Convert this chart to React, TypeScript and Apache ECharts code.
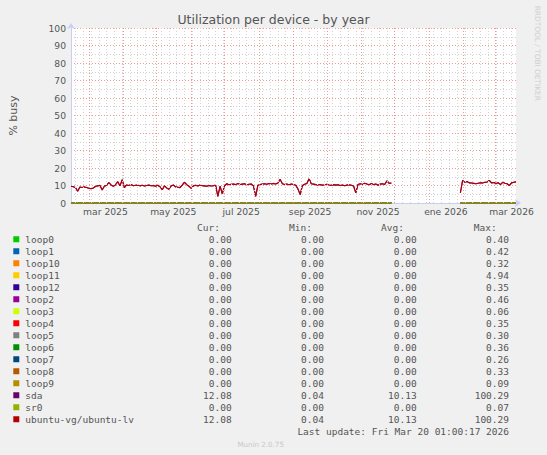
import React, { useEffect, useRef } from "react";
import * as echarts from "echarts";

const DAY = 86400000;
const START = Date.UTC(2025, 1, 13, 1, 0, 0);
const END = Date.UTC(2026, 2, 20, 1, 0, 0);
const STEP_DAYS = 2;

// ubuntu-vg/ubuntu-lv (and sda) % busy, one value every 2 days
const SEG1_START_DAY = 0;
const SEG1_VALUES = [
  9.6, 9.3, 8.9, 6.7, 9.1, 8.9, 9.2, 8.8, 8.4, 8.1,
  8.6, 9.4, 9.8, 10.1, 7.4, 9.6, 10.2, 11.6, 10.3, 9.5,
  10.4, 12.2, 9.8, 13.3, 8.8, 10.3, 10.0, 10.6, 9.9, 10.1,
  10.2, 9.8, 10.1, 9.7, 10.0, 10.2, 9.9, 10.0, 9.6, 10.1,
  9.3, 7.6, 9.8, 8.6, 7.9, 9.7, 10.3, 9.2, 9.0, 8.8,
  10.2, 11.9, 10.5, 9.6, 8.4, 9.8, 10.1, 9.7, 10.3, 9.9,
  9.8, 9.6, 10.0, 9.7, 9.9, 10.2, 3.8, 9.6, 5.2, 9.8,
  11.0, 10.4, 10.7, 10.9, 10.5, 11.2, 10.6, 10.8, 11.0, 10.4,
  10.7, 10.9, 9.8, 3.8, 10.2, 10.6, 10.8, 11.0, 10.7, 11.1,
  10.9, 11.2, 10.8, 11.4, 13.5, 11.0, 10.6, 10.8, 10.4, 10.9,
  10.6, 10.2, 8.0, 4.8, 10.0, 10.7, 11.2, 13.8, 11.0, 10.8,
  10.5, 10.3, 10.6, 10.2, 10.4, 10.7, 10.3, 10.1, 10.5, 10.2,
  10.4, 10.0, 10.3, 9.9, 10.2, 10.4, 10.1, 9.7, 5.8, 10.6,
  11.0, 10.6, 11.3, 10.8, 10.4, 11.1, 10.5, 10.9, 10.2, 10.8,
  11.0, 10.6, 12.7, 11.2, 11.4,
];
const GAP_DAY = 319;
const SEG2_START_DAY = 350;
const SEG2_VALUES = [
  5.7, 12.9, 11.8, 12.3, 11.5, 11.4, 11.2, 11.0, 11.3, 11.6,
  11.4, 11.8, 12.0, 12.9, 11.5, 11.7, 11.2, 11.6, 10.5, 11.8,
  11.3, 11.0, 9.9, 11.5, 11.9, 12.08,
];
// days where the idle devices report 0 (segment ends)
const ZERO_POINTS_DAYS = [0, 288, 350, 400];

const SERIES_NAMES = [
  "loop0", "loop1", "loop10", "loop11", "loop12", "loop2", "loop3", "loop4",
  "loop5", "loop6", "loop7", "loop8", "loop9", "sda", "sr0", "ubuntu-vg/ubuntu-lv",
];
const SERIES_COLORS = [
  "#00CC00", "#0066B3", "#FF8000", "#FFCC00", "#330099", "#990099", "#CCFF00", "#FF0000",
  "#808080", "#008F00", "#00487D", "#B35A00", "#B38F00", "#6B006B", "#8FB300", "#B30000",
];
const CUR = ["0.00","0.00","0.00","0.00","0.00","0.00","0.00","0.00","0.00","0.00","0.00","0.00","0.00","12.08","0.00","12.08"];
const MIN = ["0.00","0.00","0.00","0.00","0.00","0.00","0.00","0.00","0.00","0.00","0.00","0.00","0.00","0.04","0.00","0.04"];
const AVG = ["0.00","0.00","0.00","0.00","0.00","0.00","0.00","0.00","0.00","0.00","0.00","0.00","0.00","10.13","0.00","10.13"];
const MAX = ["0.40","0.42","0.32","4.94","0.35","0.46","0.06","0.35","0.30","0.36","0.26","0.33","0.09","100.29","0.07","100.29"];

const X_LABELS = ["mar 2025", "may 2025", "jul 2025", "sep 2025", "nov 2025", "ene 2026", "mar 2026"];
const X_LABEL_MONTHS = [[2025, 2], [2025, 4], [2025, 6], [2025, 8], [2025, 10], [2026, 0], [2026, 2]];
const Y_MAX = 100;
const Y_STEP = 10;

const TITLE = "Utilization per device - by year";
const Y_NAME = "% busy";
const LAST_UPDATE = "Last update: Fri Mar 20 01:00:17 2026";
const FOOTER = "Munin 2.0.75";
const WATERMARK = "RRDTOOL / TOBI OETIKER";

export default function App() {
  const ref = useRef<HTMLDivElement>(null);
  useEffect(() => {
    if (!ref.current) return;
    const chart = echarts.init(ref.current, undefined, { renderer: "svg" });

    const mainData: any[] = [];
    SEG1_VALUES.forEach((v, i) => mainData.push([START + (SEG1_START_DAY + i * STEP_DAYS) * DAY, v]));
    mainData.push([START + GAP_DAY * DAY, "-"]);
    SEG2_VALUES.forEach((v, i) => mainData.push([START + (SEG2_START_DAY + i * STEP_DAYS) * DAY, v]));

    const zeroData: any[] = [
      [START + ZERO_POINTS_DAYS[0] * DAY, 0],
      [START + ZERO_POINTS_DAYS[1] * DAY, 0],
      [START + GAP_DAY * DAY, "-"],
      [START + ZERO_POINTS_DAYS[2] * DAY, 0],
      [START + ZERO_POINTS_DAYS[3] * DAY, 0],
    ];

    // vertical grid: Mondays (minor, grey) and month starts (major, red)
    const monthStarts: number[] = [];
    for (let k = 0; k < 14; k++) {
      const t = Date.UTC(2025, 2 + k, 1);
      if (t <= END) monthStarts.push(t);
    }
    const mondays: number[] = [];
    for (let t = Date.UTC(2025, 1, 17); t <= END; t += 7 * DAY) mondays.push(t);
    const labelValues = X_LABEL_MONTHS.map(([y, m]) => Date.UTC(y, m, 16));

    const minorStyle = { color: "#D2D2D2", type: [1, 2], width: 1 };
    const majorStyle = { color: "rgba(235,120,120,0.75)", type: [1, 2], width: 1 };

    const gridMarkLine = {
      silent: true,
      symbol: ["none", "none"],
      label: { show: false },
      emphasis: { disabled: true },
      animation: false,
      data: [
        ...mondays.map((t) => ({ xAxis: t, lineStyle: minorStyle })),
        ...monthStarts.map((t) => ({ xAxis: t, lineStyle: majorStyle })),
      ],
    };

    const series: any[] = [
      {
        name: "__grid",
        type: "line",
        data: [],
        symbol: "none",
        z: 1,
        markLine: gridMarkLine,
      },
      ...SERIES_NAMES.map((name, i) => {
        const isMain = name === "sda" || name === "ubuntu-vg/ubuntu-lv";
        return {
          name,
          type: "line",
          data: isMain ? mainData : zeroData,
          showSymbol: false,
          symbol: "none",
          lineStyle: { color: SERIES_COLORS[i], width: isMain ? 1.1 : 1, opacity: isMain ? 1 : 0.75 },
          itemStyle: { color: SERIES_COLORS[i] },
          connectNulls: false,
          z: 3 + i * 0.01,
        };
      }),
    ];

    const mono = '"DejaVu Sans Mono", monospace';
    const sans = '"DejaVu Sans", sans-serif';
    const fs = 9.5;
    const rowY0 = 239.3;
    const rowH = 12;
    const cols = [231.7, 324, 416.7, 509];
    const headCols = [220, 312, 404, 496.7];
    const heads = ["Cur:", "Min:", "Avg:", "Max:"];
    const graphics: any[] = [];
    heads.forEach((h, j) =>
      graphics.push({
        type: "text", x: headCols[j], y: 227.3,
        style: { text: h, font: `${fs}px ${mono}`, fill: "#555", textAlign: "right", textVerticalAlign: "middle" },
      })
    );
    SERIES_NAMES.forEach((name, i) => {
      const y = rowY0 + i * rowH;
      graphics.push({ type: "rect", shape: { x: 13.3, y: y - 3, width: 6, height: 6 }, style: { fill: SERIES_COLORS[i] } });
      graphics.push({
        type: "text", x: 25.3, y,
        style: { text: name, font: `${fs}px ${mono}`, fill: "#555", textAlign: "left", textVerticalAlign: "middle" },
      });
      [CUR[i], MIN[i], AVG[i], MAX[i]].forEach((v, j) =>
        graphics.push({
          type: "text", x: cols[j], y,
          style: { text: v, font: `${fs}px ${mono}`, fill: "#555", textAlign: "right", textVerticalAlign: "middle" },
        })
      );
    });
    graphics.push({
      type: "text", x: 509, y: rowY0 + SERIES_NAMES.length * rowH,
      style: { text: LAST_UPDATE, font: `${fs}px ${mono}`, fill: "#555", textAlign: "right", textVerticalAlign: "middle" },
    });
    graphics.push({
      type: "text", x: 260.7, y: 444,
      style: { text: FOOTER, font: `7.1px ${sans}`, fill: "#C8C8C8", textAlign: "center", textVerticalAlign: "middle" },
    });
    graphics.push({
      type: "text", x: 537, y: 53.3, rotation: -Math.PI / 2,
      style: { text: WATERMARK, font: `7.4px ${sans}`, fill: "#CFCFCF", textAlign: "center", textVerticalAlign: "middle" },
    });

    const axisBlue = "#C9CEF5";
    chart.setOption({
      animation: false,
      backgroundColor: "#F0F0F0",
      title: {
        text: TITLE,
        left: "center",
        top: 12.5,
        padding: 0,
        textStyle: { fontFamily: sans, fontSize: 12.5, fontWeight: "normal", color: "#555" },
      },
      grid: { left: 66, top: 28, width: 450, height: 175, show: true, backgroundColor: "#FFFFFF", borderWidth: 0 },
      xAxis: {
        type: "value", min: START, max: END, position: "bottom",
        axisLine: {
          show: true, onZero: false, lineStyle: { color: axisBlue, width: 1 },
          symbol: ["none", "arrow"], symbolSize: [6, 6], symbolOffset: [0, 5],
        },
        axisTick: { show: false },
        axisLabel: {
          customValues: labelValues, margin: 4, color: "#555", fontFamily: sans, fontSize: 9.2,
          formatter: (v: number) => {
            const idx = labelValues.findIndex((t) => Math.abs(t - v) < DAY);
            return idx >= 0 ? X_LABELS[idx] : "";
          },
        },
        splitLine: { show: false },
      },
      yAxis: {
        type: "value", min: 0, max: Y_MAX, interval: Y_STEP,
        name: Y_NAME, nameLocation: "middle", nameRotate: 90, nameGap: 52,
        nameTextStyle: { fontFamily: sans, fontSize: 11, color: "#555" },
        axisLine: {
          show: true, lineStyle: { color: axisBlue, width: 1 },
          symbol: ["none", "arrow"], symbolSize: [6, 6], symbolOffset: [0, 5],
        },
        axisTick: { show: false },
        axisLabel: { margin: 5, color: "#555", fontFamily: sans, fontSize: 9.2 },
        splitLine: { show: true, lineStyle: majorStyle },
        minorTick: { show: false, splitNumber: 2 },
        minorSplitLine: { show: true, lineStyle: minorStyle },
      },
      graphic: graphics,
      series,
    });
    return () => chart.dispose();
  }, []);
  return (
    <div
      ref={ref}
      style={{ position: "fixed", left: 0, top: 0, width: 547, height: 455 }}
    />
  );
}
